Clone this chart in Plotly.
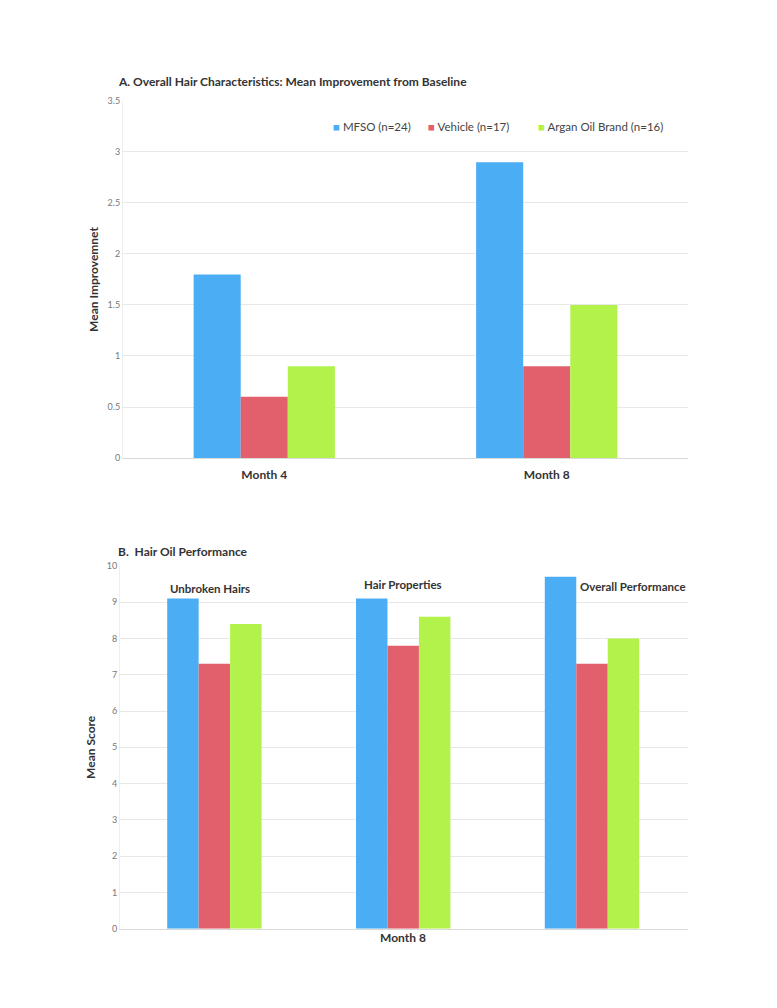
import plotly.graph_objects as go

# ---- Data ----
series_names = ["MFSO (n=24)", "Vehicle (n=17)", "Argan Oil Brand (n=16)"]
colors = ["#4BAEF4", "#E2606C", "#B2F24A"]

months_a = ["Month 4", "Month 8"]
mfso_a = [1.8, 2.9]
vehicle_a = [0.6, 0.9]
argan_a = [0.9, 1.5]

groups_b = ["Unbroken Hairs", "Hair Properties", "Overall Performance"]
mfso_b = [9.1, 9.1, 9.7]
vehicle_b = [7.3, 7.8, 7.3]
argan_b = [8.4, 8.6, 8.0]

W, H = 777, 1008
FONT = "Lato"
DARK = "#333333"

def px_x(p):
    return p / W

def px_y(p):
    return 1 - p / H

fig = go.Figure()

vals_a = [mfso_a, vehicle_a, argan_a]
vals_b = [mfso_b, vehicle_b, argan_b]
for name, col, va, vb in zip(series_names, colors, vals_a, vals_b):
    fig.add_trace(go.Bar(x=months_a, y=va, name=name, marker=dict(color=col, line=dict(width=0)),
                         xaxis="x", yaxis="y", showlegend=False))
    fig.add_trace(go.Bar(x=groups_b, y=vb, name=name, marker=dict(color=col, line=dict(width=0)),
                         xaxis="x2", yaxis="y2", showlegend=False))

grid = "#E8E8E8"
tickfont = dict(family=FONT, size=9, color="#777777")
titlefont = dict(family=FONT, size=12, color=DARK, weight="bold")

fig.update_layout(
    width=W, height=H,
    margin=dict(l=0, r=0, t=0, b=0),
    paper_bgcolor="white", plot_bgcolor="white",
    barmode="group", bargap=0.5, bargroupgap=0,
    font=dict(family=FONT),
    showlegend=False,
    xaxis=dict(domain=[px_x(123), px_x(688)], anchor="y",
               tickvals=months_a, ticktext=months_a, ticklabelstandoff=6,
               tickfont=dict(family=FONT, size=12, color=DARK, weight="bold"),
               showline=True, linecolor="#D9D9D9", linewidth=1, showgrid=False, ticks=""),
    yaxis=dict(domain=[px_y(457), px_y(96)], anchor="x", range=[0, 3.5], dtick=0.5,
               tickfont=tickfont, gridcolor=grid, showline=True, linecolor="#EEEEEE",
               zeroline=False, ticks="",
               title=dict(text="Mean Improvemnet", font=titlefont, standoff=6)),
    xaxis2=dict(domain=[px_x(120), px_x(688)], anchor="y2",
                showticklabels=False, showline=True, linecolor="#D9D9D9", linewidth=1,
                showgrid=False, ticks=""),
    yaxis2=dict(domain=[px_y(933), px_y(566)], anchor="x2", range=[0, 10], dtick=1,
                tickfont=tickfont, gridcolor=grid, showline=True, linecolor="#EEEEEE",
                zeroline=False, ticks="",
                title=dict(text="Mean Score", font=titlefont, standoff=8)),
)

annotations = [
    dict(text="<b>A. Overall Hair Characteristics: Mean Improvement from Baseline</b>",
         xref="paper", yref="paper", x=px_x(116), y=px_y(76), xanchor="left", yanchor="middle",
         showarrow=False, font=dict(family=FONT, size=12, color=DARK)),
    dict(text="<b>B.  Hair Oil Performance</b>",
         xref="paper", yref="paper", x=px_x(116), y=px_y(552), xanchor="left", yanchor="middle",
         showarrow=False, font=dict(family=FONT, size=12, color=DARK)),
    dict(text="<b>Month 8</b>", xref="paper", yref="paper", x=px_x(403), y=px_y(942),
         xanchor="center", yanchor="middle", showarrow=False,
         font=dict(family=FONT, size=12, color=DARK)),
]

# legend for panel A built from the series names and colours
legend_x = [331, 426, 536]
for name, col, lx in zip(series_names, colors, legend_x):
    annotations.append(dict(
        text="<span style='color:%s'>■</span> %s" % (col, name),
        xref="paper", yref="paper", x=px_x(lx), y=px_y(122), xanchor="left", yanchor="middle",
        showarrow=False, font=dict(family=FONT, size=11.5, color="#444444")))

label_shifts = [-4, 0, 41]
label_y = [9.38, 9.48, 9.42]
for g, sh, yy in zip(groups_b, label_shifts, label_y):
    annotations.append(dict(text="<b>" + g + "</b>", xref="x2", yref="y2", x=g, y=yy,
                            xshift=sh, xanchor="center", yanchor="middle", showarrow=False,
                            font=dict(family=FONT, size=11.5, color=DARK)))
fig.update_layout(annotations=annotations)

fig.write_html("out.html", config={"displayModeBar": False},
               post_script="document.body.style.margin='0';")
